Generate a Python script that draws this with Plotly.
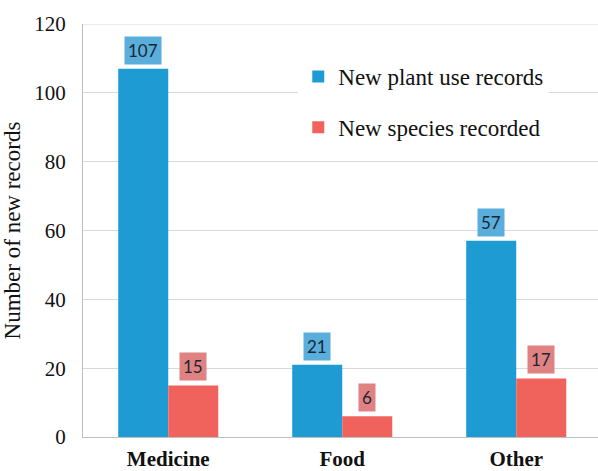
import plotly.graph_objects as go

categories = ["Medicine", "Food", "Other"]
plant_use_records = [107, 21, 57]
species_recorded = [15, 6, 17]
series_names = ["New plant use records", "New species recorded"]

BLUE = "#1f9bd3"
RED = "#f0635c"
BLUE_LABEL = "#5aaedb"
RED_LABEL = "#e08282"
SERIF = "Liberation Serif"

fig = go.Figure()
fig.add_trace(go.Bar(x=categories, y=plant_use_records, name=series_names[0],
                     marker=dict(color=BLUE, line=dict(width=0)),
                     offsetgroup="a", legendgroup="a"))
fig.add_trace(go.Bar(x=categories, y=species_recorded, name=series_names[1],
                     marker=dict(color=RED, line=dict(width=0)),
                     offsetgroup="b", legendgroup="b"))

# boxed value labels above each bar
for vals, shift, bg in [(plant_use_records, -0.143, BLUE_LABEL),
                        (species_recorded, 0.143, RED_LABEL)]:
    for i, v in enumerate(vals):
        fig.add_annotation(x=i + shift, y=v, text=str(v), showarrow=False,
                           yanchor="bottom", yshift=4,
                           font=dict(family="Lato", size=17, color="#1b2633"),
                           bgcolor=bg, borderpad=3)

fig.update_layout(
    width=598, height=471,
    margin=dict(l=83, r=0, t=24, b=34, autoexpand=False),
    paper_bgcolor="white", plot_bgcolor="white",
    bargap=0.425, bargroupgap=0,
    font=dict(family=SERIF, size=20, color="#111111"),
    showlegend=True,
    legend=dict(x=0.418, y=0.925, xanchor="left", yanchor="top",
                bgcolor="white", traceorder="grouped", tracegroupgap=18,
                font=dict(family=SERIF, size=23, color="#111111")),
)
fig.update_xaxes(
    type="category", range=[-0.49, 2.47], automargin=False,
    tickfont=dict(family=SERIF, size=21, color="#111111", weight="bold"),
    showline=True, linecolor="#bfbfbf", linewidth=1, ticks="", ticklabelstandoff=3,
)
fig.update_yaxes(
    range=[0, 120], dtick=20, automargin=False,
    showgrid=True, gridcolor="#d9d9d9", gridwidth=1,
    showline=True, linecolor="#bfbfbf", linewidth=1, zeroline=False,
    ticks="", ticklabelstandoff=12,
    tickfont=dict(family=SERIF, size=21, color="#111111"),
    title=dict(text="Number of new records", standoff=10,
               font=dict(family=SERIF, size=23, color="#111111")),
)
# top edge of the plotting box
fig.add_shape(type="line", xref="paper", yref="y", x0=0, x1=1, y0=120, y1=120,
              line=dict(color="#d9d9d9", width=1))

fig.write_html("out.html")
